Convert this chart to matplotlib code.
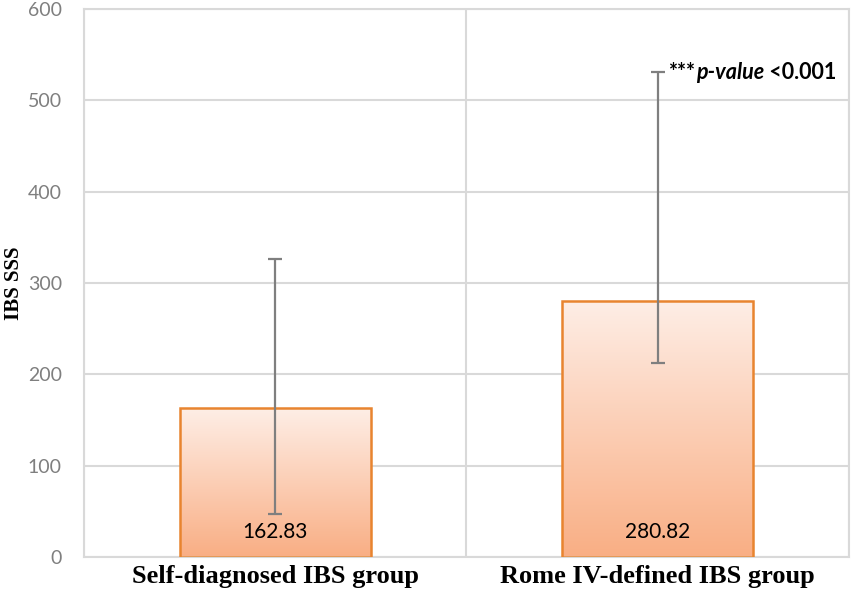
import numpy as np
import matplotlib.pyplot as plt
from matplotlib.colors import LinearSegmentedColormap

groups = ["Self-diagnosed IBS group", "Rome IV-defined IBS group"]
means = [162.83, 280.82]
err_low = [47, 212]     # lower end of error bar
err_high = [326, 531]   # upper end of error bar
value_labels = ["162.83", "280.82"]

fig = plt.figure(figsize=(8.54, 6), dpi=100)
ax = fig.add_axes([0.0984, 0.0717, 0.8956, 0.9133])

x = np.arange(len(groups))
bars = ax.bar(x, means, width=0.5, color="none", edgecolor="#E8842F", linewidth=1.8, zorder=3)

# vertical gradient fill, light at top, orange at bottom
cmap = LinearSegmentedColormap.from_list("peach", ["#F9AE84", "#FEEEE6"])
grad = np.linspace(0, 1, 256).reshape(-1, 1)
for b in bars:
    x0, y0 = b.get_x(), b.get_y()
    im = ax.imshow(grad, cmap=cmap, origin="lower", aspect="auto",
                   extent=[x0, x0 + b.get_width(), y0, y0 + b.get_height()], zorder=2)
    im.set_clip_path(b)

yerr = [np.array(means) - np.array(err_low), np.array(err_high) - np.array(means)]
ax.errorbar(x, means, yerr=yerr, fmt="none", ecolor="#7F7F7F", elinewidth=1.6,
            capsize=5, capthick=1.6, zorder=4)

for i, lab in enumerate(value_labels):
    ax.text(x[i], 27, lab, ha="center", va="center", fontsize=15,
            family="Lato", color="black", zorder=5)

# annotation with mixed styles
t1 = ax.text(1.03, 531, "***", fontsize=15.5, family="Lato", weight="bold",
             va="center", ha="left", zorder=5)
t2 = ax.annotate("p-value", xy=(1, 0), xycoords=t1, va="bottom", ha="left",
                 fontsize=15.5, family="Lato", weight="bold", style="italic")
ax.annotate(" <0.001", xy=(1, 0), xycoords=t2, va="bottom", ha="left",
            fontsize=15.5, family="Lato", weight="bold")

ax.set_xlim(-0.5, 1.5)
ax.set_ylim(0, 600)
ax.set_yticks(range(0, 601, 100))
ax.set_xticks(x)
ax.set_xticklabels(groups, family="Liberation Serif", weight="bold", fontsize=19)
ax.set_xticks([-0.5, 0.5, 1.5], minor=True)
ax.tick_params(axis="both", which="both", length=0)
ax.tick_params(axis="x", pad=6)
ax.tick_params(axis="y", pad=16, labelsize=14, labelcolor="#7F7F7F")
for lab in ax.get_yticklabels():
    lab.set_family("Lato")

ax.grid(axis="y", color="#D9D9D9", linewidth=1.5, zorder=0)
ax.grid(axis="x", which="minor", color="#D9D9D9", linewidth=1.5, zorder=0)
ax.set_axisbelow(True)
for s in ax.spines.values():
    s.set_color("#D9D9D9")
    s.set_linewidth(1.5)

ax.set_ylabel("IBS SSS", family="Liberation Serif", weight="bold", fontsize=15)
ax.yaxis.set_label_coords(-0.079, 0.5)

fig.savefig("out.png", dpi=100)
